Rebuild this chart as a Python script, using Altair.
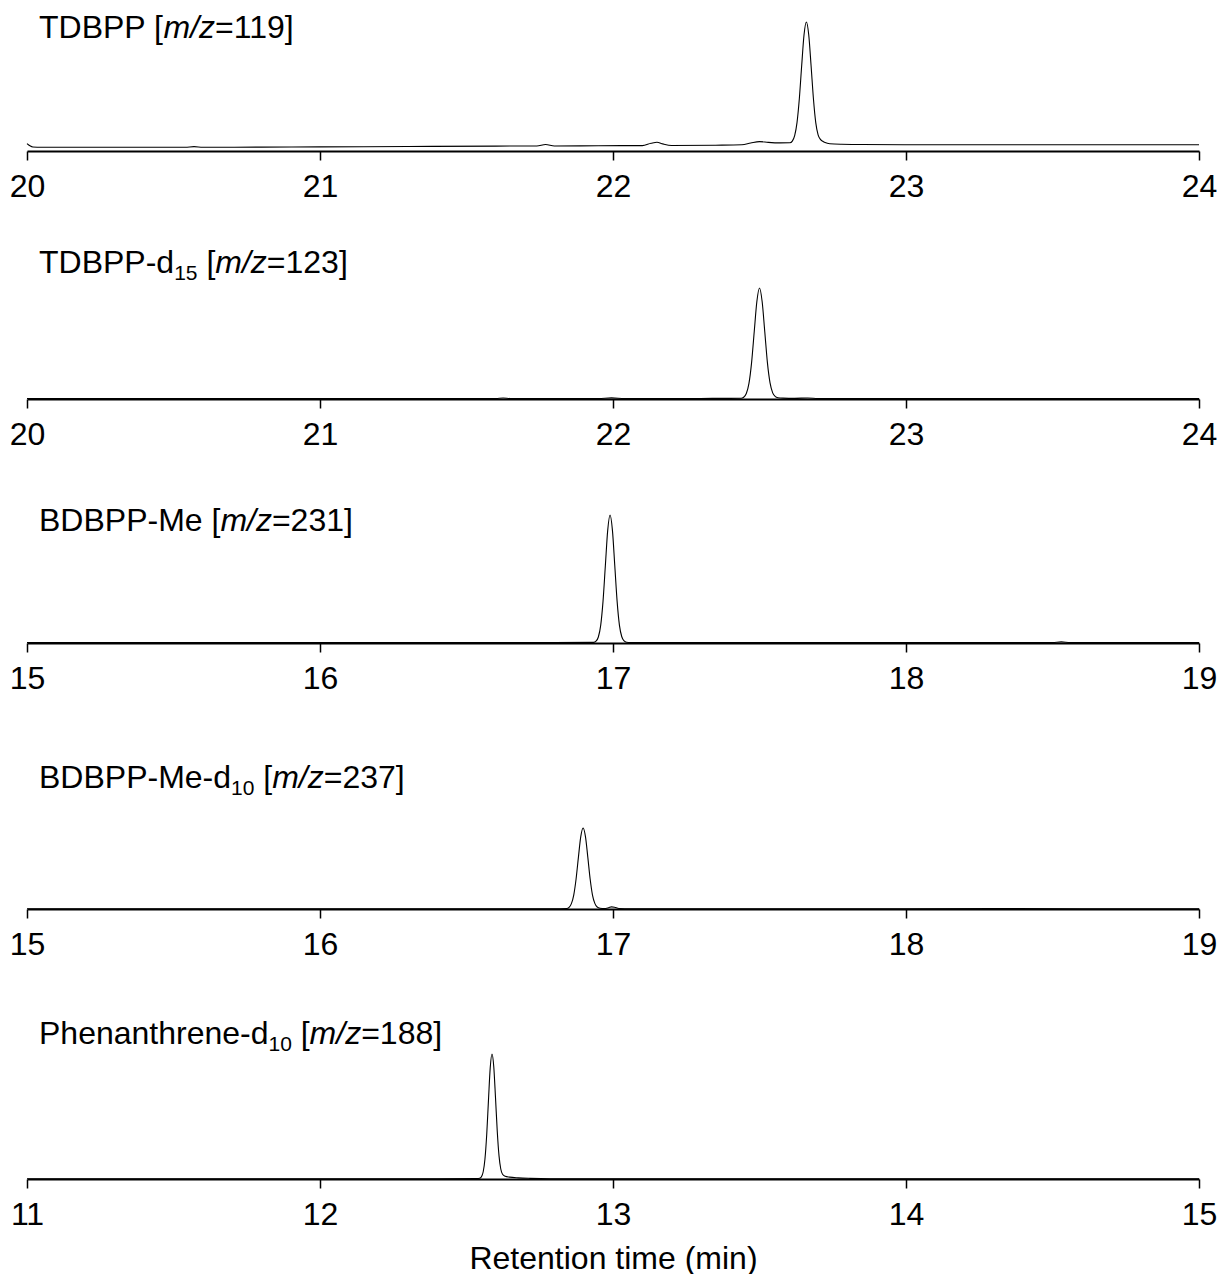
import altair as alt
import pandas as pd

# ---------------- data ----------------
T1 = [20.00, 20.01, 20.02, 20.05, 20.30, 20.54, 20.57, 20.60, 20.80, 21.00, 21.30, 21.60, 21.74, 21.77,
      21.80, 21.95, 22.10, 22.13, 22.15, 22.17, 22.20, 22.35, 22.44, 22.47, 22.50, 22.53, 22.57, 22.604,
      22.612, 22.620, 22.628, 22.636, 22.644, 22.652, 22.660, 22.668, 22.676, 22.684, 22.692, 22.700,
      22.708, 22.716, 22.724, 22.74, 22.78, 22.85, 23.00, 23.50, 24.00]
I1 = [5.7, 4.0, 3.1, 2.9, 2.9, 2.9, 3.4, 2.9, 3.0, 3.2, 3.5, 3.8, 3.9, 5.0,
      3.9, 4.1, 4.2, 6.0, 6.8, 5.5, 4.3, 4.5, 4.8, 6.2, 7.3, 6.7, 6.3, 6.4,
      7.7, 11.9, 22.0, 40.7, 66.3, 90.1, 100, 90.1, 66.3, 40.7, 22.0, 12.5,
      9.0, 7.5, 6.5, 5.6, 5.2, 5.0, 4.8, 4.8, 4.8]

T2 = [20.00, 20.50, 21.00, 21.60, 21.625, 21.65, 21.95, 21.995, 22.04, 22.25, 22.35, 22.40, 22.437,
      22.446, 22.455, 22.464, 22.473, 22.482, 22.491, 22.500, 22.509, 22.518, 22.527, 22.536, 22.545,
      22.554, 22.563, 22.58, 22.62, 22.665, 22.70, 23.00, 23.50, 24.00]
I2 = [0.4, 0.4, 0.4, 0.4, 0.9, 0.4, 0.4, 1.0, 0.4, 0.4, 0.6, 0.6, 0.7,
      1.6, 4.9, 14.0, 32.8, 60.6, 87.8, 100, 87.8, 60.6, 32.8, 14.5, 5.5,
      2.2, 1.2, 0.8, 0.6, 0.9, 0.5, 0.4, 0.4, 0.4]

T3 = [15.00, 15.50, 16.00, 16.50, 16.80, 16.934, 16.942, 16.950, 16.958, 16.966, 16.974, 16.982,
      16.990, 16.998, 17.006, 17.014, 17.022, 17.030, 17.038, 17.046, 17.06, 17.20, 17.60, 18.00,
      18.50, 18.53, 18.56, 19.00]
I3 = [0.3, 0.3, 0.3, 0.3, 0.3, 0.5, 1.4, 4.7, 13.8, 32.7, 60.7, 88.2,
      100, 88.2, 60.7, 32.7, 13.8, 4.9, 1.6, 0.6, 0.4, 0.3, 0.3, 0.3,
      0.3, 0.9, 0.3, 0.3]

T4 = [15.00, 15.50, 16.00, 16.50, 16.80, 16.842, 16.850, 16.858, 16.866, 16.874, 16.882, 16.890,
      16.898, 16.906, 16.914, 16.922, 16.930, 16.938, 16.946, 16.956, 16.97, 16.985, 16.995, 17.005,
      17.02, 17.04, 17.30, 17.70, 18.00, 18.30, 18.60, 19.00]
I4 = [0.3, 0.3, 0.3, 0.3, 0.4, 0.7, 2.1, 6.6, 17.2, 37.0, 64.1, 89.3,
      100, 89.3, 64.1, 37.0, 17.2, 6.9, 2.4, 1.0, 0.6, 1.6, 2.6, 2.2,
      0.6, 0.4, 0.3, 0.3, 0.4, 0.5, 0.4, 0.4]

T5 = [11.00, 11.50, 12.00, 12.40, 12.535, 12.545, 12.551, 12.557, 12.563, 12.569, 12.575, 12.581,
      12.587, 12.593, 12.599, 12.605, 12.611, 12.617, 12.623, 12.632, 12.647, 12.677, 12.717, 12.787,
      13.00, 13.50, 14.00, 14.50, 15.00]
I5 = [0.2, 0.2, 0.2, 0.2, 0.3, 0.6, 1.8, 5.8, 16.0, 35.6, 63.1, 89.1,
      100, 90.0, 65.0, 38.0, 18.5, 8.0, 3.8, 2.2, 1.5, 0.9, 0.5, 0.2,
      0.2, 0.2, 0.2, 0.2, 0.2]

TIMES = [T1, T2, T3, T4, T5]
INTENS = [I1, I2, I3, I4, I5]
X_DOMAINS = [[20, 24], [20, 24], [15, 19], [15, 19], [11, 15]]
X_TICKS = [[20, 21, 22, 23, 24], [20, 21, 22, 23, 24], [15, 16, 17, 18, 19],
           [15, 16, 17, 18, 19], [11, 12, 13, 14, 15]]
NAMES = ["TDBPP", "TDBPP-d", "BDBPP-Me", "BDBPP-Me-d", "Phenanthrene-d"]
SUBS = ["", "15", "", "10", "10"]
MZ = ["119", "123", "231", "237", "188"]
X_TITLE = "Retention time (min)"

# ---------------- layout ----------------
W = 1172
HEIGHTS = [146, 197, 193, 215, 219]
PEAK_PX = [129, 111, 128, 81, 125]          # pixel height of the 100 % peak
TITLE_ABOVE_AXIS = [113, 126, 112, 121, 135]
FS = 32
SUB_FS = 21
FONT = "Liberation Sans"

CW = {' ': 278, '-': 333, '/': 278, '=': 584, '[': 278, ']': 278, 'B': 667, 'D': 722, 'M': 833,
      'P': 667, 'T': 611, 'a': 556, 'd': 556, 'e': 556, 'h': 556, 'm': 833, 'n': 556, 'r': 333,
      't': 278, 'z': 500}
for c in "0123456789":
    CW[c] = 556


def tw(s, size):
    return sum(CW[c] for c in s) / 1000.0 * size


def text_piece(s, x, y, size=FS, style="normal", dy=0):
    return alt.Chart(pd.DataFrame({"s": [s]})).mark_text(
        align="left", baseline="alphabetic", font=FONT, fontSize=size,
        fontStyle=style, color="black", dy=dy
    ).encode(x=alt.value(x), y=alt.value(y), text="s:N")


panels = []
for i in range(5):
    df = pd.DataFrame({"t": TIMES[i], "v": INTENS[i]})
    h = HEIGHTS[i]
    ymax = 100.0 * h / PEAK_PX[i]
    last = i == 4
    axis = alt.Axis(values=X_TICKS[i], format="d", grid=False, labelOverlap=False,
                    labelFlush=False, title=X_TITLE if last else None)
    line = alt.Chart(df).mark_line(color="black", strokeWidth=1.1, interpolate="monotone").encode(
        x=alt.X("t:Q", scale=alt.Scale(domain=X_DOMAINS[i], nice=False, zero=False), axis=axis),
        y=alt.Y("v:Q", scale=alt.Scale(domain=[0, ymax]), axis=None),
    )
    ty = h - TITLE_ABOVE_AXIS[i]
    x = 12.0
    layers = [line]
    if SUBS[i]:
        layers.append(text_piece(NAMES[i], x, ty))
        x += tw(NAMES[i], FS)
        layers.append(text_piece(SUBS[i], x, ty, size=SUB_FS, dy=7))
        x += tw(SUBS[i], SUB_FS) + tw(" ", FS)
        layers.append(text_piece("[", x, ty))
        x += tw("[", FS)
    else:
        first = NAMES[i] + " ["
        layers.append(text_piece(first, x, ty))
        x += tw(first, FS)
    layers.append(text_piece("m/z", x, ty, style="italic"))
    x += tw("m/z", FS)
    layers.append(text_piece("=" + MZ[i] + "]", x, ty))
    panels.append(alt.layer(*layers).properties(width=W, height=h))

chart = alt.vconcat(*panels, spacing=0).properties(
    padding={"left": 9, "top": 5, "right": 5, "bottom": 0}
).configure_view(stroke=None).configure_axis(
    domainColor="black", domainWidth=2, tickColor="black", tickWidth=1.5, tickSize=9,
    labelFont=FONT, labelFontSize=FS, labelColor="black", labelPadding=11,
    titleFont=FONT, titleFontSize=FS, titleFontWeight="normal", titleColor="black", titlePadding=13,
)

chart.save("out.html", embed_options={"renderer": "svg", "actions": False})
